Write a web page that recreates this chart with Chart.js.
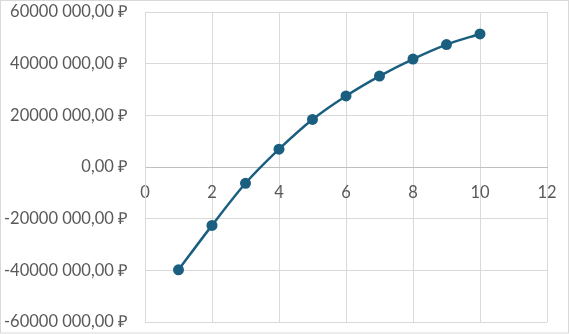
<!DOCTYPE html>
<html>
<head>
<meta charset="utf-8">
<script src="https://cdn.jsdelivr.net/npm/chart.js@4"></script>
<style>
  html, body { margin: 0; padding: 0; background: #fff; }
  #wrap { width: 569px; height: 334px; }
</style>
</head>
<body>
<div id="wrap"><canvas id="myChart" width="569" height="334"></canvas></div>
<script>
// данные графика
const years = [1, 2, 3, 4, 5, 6, 7, 8, 9, 10];
const npv = [-39800000, -22600000, -6300000, 6900000, 18400000, 27500000, 35200000, 41800000, 47400000, 51500000];
const xTicks = [0, 2, 4, 6, 8, 10, 12];
const yTicks = [-60000000, -40000000, -20000000, 0, 20000000, 40000000, 60000000];

const lineColor = '#1b5f80';
const textColor = '#595959';
const gridColor = '#d9d9d9';

// "60000 000,00 ₽" как в Excel
function rub(v) {
    if (v === 0) return '0,00 ₽';
    const sign = v < 0 ? '-' : '';
    const s = String(Math.abs(v));
    return sign + s.slice(0, -3) + ' ' + s.slice(-3) + ',00 ₽';
}

// рамка вокруг всей диаграммы
const outerBorder = {
    id: 'outerBorder',
    afterDraw(chart) {
        const ctx = chart.ctx;
        ctx.save();
        ctx.strokeStyle = gridColor;
        ctx.lineWidth = 1;
        ctx.strokeRect(0.5, 0.5, chart.width - 1, chart.height - 1.5);
        ctx.restore();
    }
};

function noPad(scale) {
    scale.paddingTop = 0;
    scale.paddingBottom = 0;
    scale.paddingLeft = 0;
    scale.paddingRight = 0;
}

new Chart(document.getElementById('myChart').getContext('2d'), {
    type: 'scatter',
    data: {
        datasets: [{
            data: years.map((x, i) => ({x: x, y: npv[i]})),
            showLine: true,
            borderColor: lineColor,
            backgroundColor: lineColor,
            borderWidth: 2.5,
            tension: 0.3,
            pointRadius: 5.5,
            pointHoverRadius: 5.5,
            pointBorderWidth: 0
        }]
    },
    options: {
        responsive: false,
        animation: false,
        layout: { padding: { top: 12, right: 22, bottom: 12, left: 0 } },
        plugins: {
            legend: { display: false },
            tooltip: { enabled: false }
        },
        scales: {
            x: {
                type: 'linear',
                position: { y: 0 },
                min: 0,
                max: 12,
                afterBuildTicks: scale => { scale.ticks = xTicks.map(v => ({value: v})); },
                afterFit: noPad,
                grid: { color: gridColor, drawTicks: false },
                border: { color: '#bfbfbf' },
                ticks: {
                    color: textColor,
                    font: { family: 'Lato', size: 16.5 },
                    padding: 16,
                    maxRotation: 0
                }
            },
            y: {
                type: 'linear',
                min: -60000000,
                max: 60000000,
                afterBuildTicks: scale => { scale.ticks = yTicks.map(v => ({value: v})); },
                afterFit: scale => { noPad(scale); scale.width = 145; },
                grid: {
                    drawTicks: false,
                    color: ctx => (ctx.tick && ctx.tick.value === 0) ? '#bfbfbf' : gridColor
                },
                border: { color: gridColor },
                ticks: {
                    color: textColor,
                    font: { family: 'Lato', size: 16.5 },
                    padding: 17,
                    callback: v => rub(v)
                }
            }
        }
    },
    plugins: [outerBorder]
});
</script>
</body>
</html>
